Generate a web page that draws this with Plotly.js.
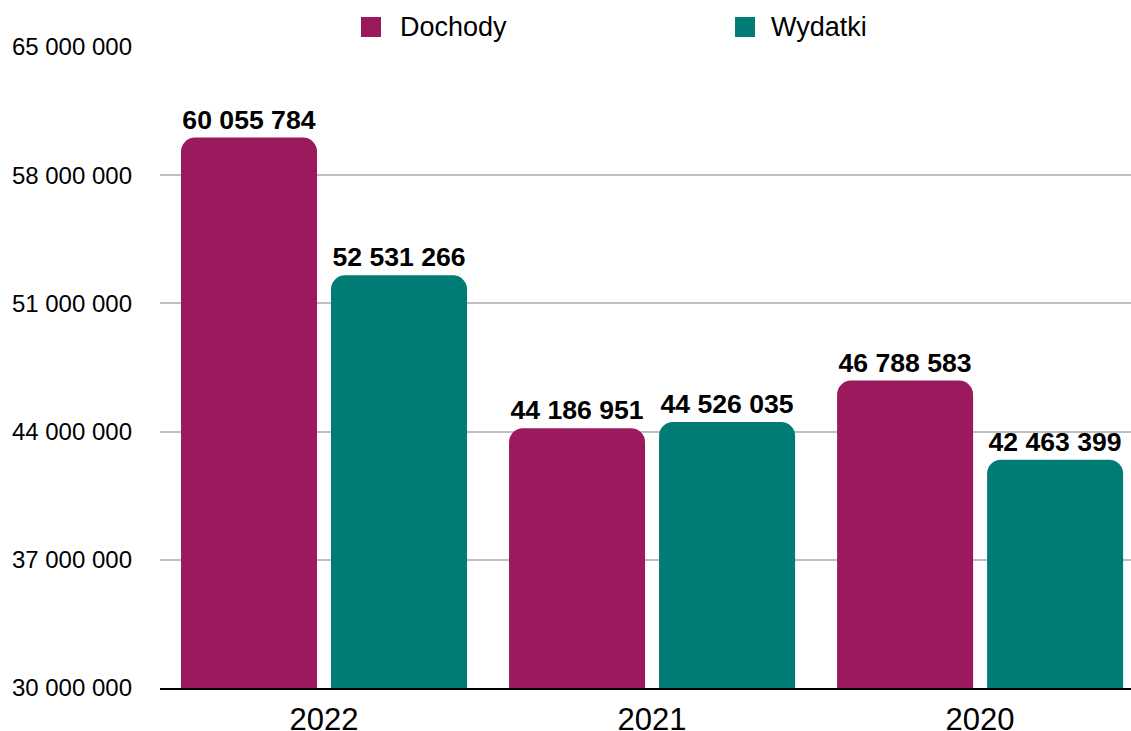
<!DOCTYPE html>
<html>
<head>
<meta charset="utf-8">
<script src="https://cdn.plot.ly/plotly-3.0.1.min.js"></script>
<style>html,body{margin:0;padding:0;background:#fff;}#chart{width:1131px;height:731px;}</style>
</head>
<body>
<div id="chart"></div>
<script>
const categories = ['2022', '2021', '2020'];
const seriesNames = ['Dochody', 'Wydatki'];
const dochody = [60055784, 44186951, 46788583];
const wydatki = [52531266, 44526035, 42463399];
const yTicks = [30000000, 37000000, 44000000, 51000000, 58000000, 65000000];
const colors = ['#9b1a5e', '#007b75'];

function fmt(v) {
  return String(v).replace(/\B(?=(\d{3})+(?!\d))/g, ' ');
}

const font = 'Liberation Sans, Arial, sans-serif';
const traces = [dochody, wydatki].map((vals, i) => ({
  type: 'bar',
  name: seriesNames[i],
  x: categories,
  y: vals,
  marker: {color: colors[i], cornerradius: 14},
  text: vals.map(fmt),
  textposition: 'outside',
  cliponaxis: false,
  textfont: {family: font, size: 26.6, color: '#000', weight: 'bold'},
  hoverinfo: 'x+y'
}));

const legendX = [[0.2173, 0.2451], [0.6025, 0.6272]];
const shapes = seriesNames.map((n, i) => ({
  type: 'rect', xref: 'paper', yref: 'paper',
  xsizemode: 'pixel', ysizemode: 'pixel',
  xanchor: legendX[i][0], yanchor: 1.0312,
  x0: -10, x1: 10, y0: -10, y1: 10,
  fillcolor: colors[i], line: {width: 0}
}));
const annotations = seriesNames.map((n, i) => ({
  xref: 'paper', yref: 'paper', x: legendX[i][1], y: 1.0312,
  xanchor: 'left', yanchor: 'middle', showarrow: false,
  text: n, font: {family: font, size: 27, color: '#000'}
}));

const layout = {
  width: 1131, height: 731,
  margin: {l: 160, r: 0, t: 47, b: 43},
  paper_bgcolor: '#fff', plot_bgcolor: '#fff',
  showlegend: false,
  barmode: 'group',
  bargap: 0.0854,
  bargroupgap: 0.0933,
  separators: ', ',
  font: {family: font, color: '#000'},
  xaxis: {
    type: 'category',
    range: [-0.5, 2.46],
    tickfont: {family: font, size: 31, color: '#000'},
    showline: true, linecolor: '#000', linewidth: 2,
    ticks: '', showgrid: false, fixedrange: true,
    ticklabelstandoff: 3
  },
  yaxis: {
    range: [30000000, 65000000],
    tickvals: yTicks,
    ticktext: yTicks.map(fmt),
    tickfont: {family: font, size: 24, color: '#000'},
    showgrid: true, gridcolor: '#bfbfbf', gridwidth: 2,
    zeroline: false, showline: false, ticks: '',
    ticklabelstandoff: 27, fixedrange: true
  },
  shapes: shapes,
  annotations: annotations
};

Plotly.newPlot('chart', traces, layout, {displayModeBar: false, staticPlot: true});
</script>
</body>
</html>
